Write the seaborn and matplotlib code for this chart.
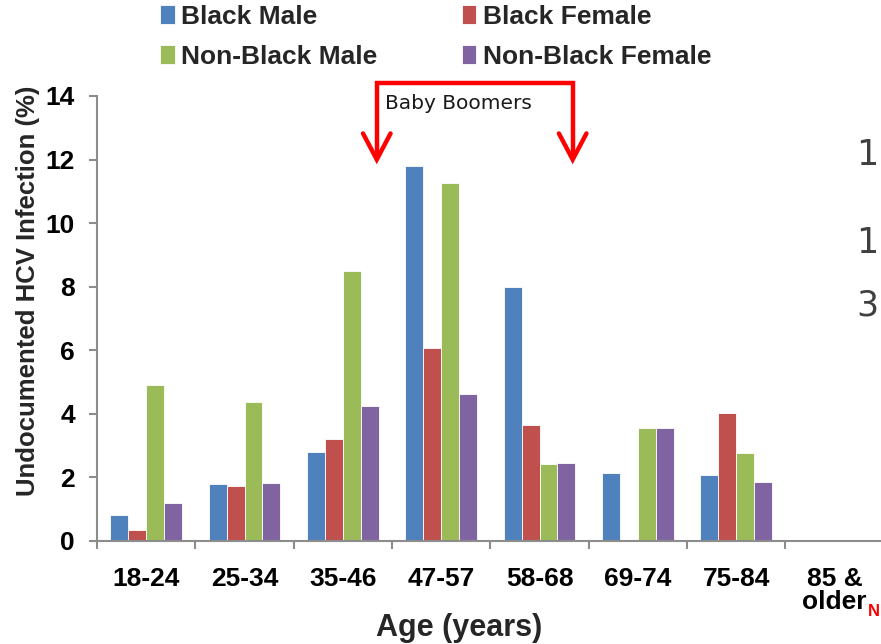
import numpy as np
import pandas as pd
import matplotlib
matplotlib.use("Agg")
import matplotlib.pyplot as plt
import seaborn as sns

# === Data ===
ages = ['18-24', '25-34', '35-46', '47-57', '58-68', '69-74', '75-84', '85 &\nolder']
groups = ['Black Male', 'Black Female', 'Non-Black Male', 'Non-Black Female']
black_male = [0.81, 1.79, 2.80, 11.80, 8.00, 2.15, 2.07, np.nan]
black_female = [0.36, 1.74, 3.22, 6.07, 3.66, np.nan, 4.02, np.nan]
nonblack_male = [4.90, 4.36, 8.49, 11.25, 2.42, 3.55, 2.76, np.nan]
nonblack_female = [1.18, 1.82, 4.24, 4.61, 2.46, 3.55, 1.84, np.nan]
colors = ['#4F81BD', '#C0504D', '#9BBB59', '#8064A2']

df = pd.DataFrame({
    'age': ages * 4,
    'group': np.repeat(groups, len(ages)),
    'value': black_male + black_female + nonblack_male + nonblack_female,
})

sns.set_theme(style='white')
plt.rcParams['font.family'] = ['Liberation Sans', 'DejaVu Sans']

fig = plt.figure(figsize=(8.81, 6.44), dpi=100)
ax = fig.add_axes([0.1101, 0.16, 0.893, 0.691])

sns.barplot(data=df, x='age', y='value', hue='group', order=ages, hue_order=groups,
            palette=dict(zip(groups, colors)), saturation=1, errorbar=None,
            width=0.73, edgecolor='white', linewidth=0.6, ax=ax)

# === Axes styling ===
ax.set_xlim(-0.5, 7.5)
ax.set_ylim(0, 14)
ax.set_yticks(range(0, 15, 2))
ax.set_xticks(range(len(ages)))
ax.set_xticklabels(ages, fontweight='bold', fontsize=19, linespacing=0.95)
ax.set_xticks(np.arange(-0.5, len(ages), 1), minor=True)
for lab in ax.get_yticklabels():
    lab.set_fontweight('bold')
    lab.set_fontsize(19)
ax.tick_params(axis='x', which='major', length=0, pad=19, colors='black')
ax.tick_params(axis='x', which='minor', length=6, width=1.5, color='#8c8c8c', direction='out')
ax.tick_params(axis='y', length=6, width=1.5, color='#8c8c8c', direction='out', pad=10,
               labelcolor='black')
ax.xaxis.set_ticks_position('bottom')
ax.yaxis.set_ticks_position('left')
for side in ['top', 'right']:
    ax.spines[side].set_visible(False)
for side in ['left', 'bottom']:
    ax.spines[side].set_color('#8c8c8c')
    ax.spines[side].set_linewidth(1.5)

ax.set_ylabel('Undocumented HCV Infection (%)', fontsize=18.5, fontweight='bold', va='center')
ax.yaxis.set_label_coords(-0.0877, 0.562)
ax.set_xlabel('Age (years)', fontsize=22, fontweight='bold', va='center')
ax.xaxis.set_label_coords(0.46, -0.195)

# === Legend ===
handles, labels = ax.get_legend_handles_labels()
ax.get_legend().remove()
order = [0, 2, 1, 3]
fig.legend([handles[i] for i in order], [labels[i] for i in order], ncol=2,
           loc='upper left', bbox_to_anchor=(160 / 881, 1 - 5 / 644), frameon=False,
           prop={'weight': 'bold', 'size': 19}, handlelength=0.55, handleheight=0.75,
           handletextpad=0.25, columnspacing=3.2, labelspacing=0.6,
           borderpad=0, borderaxespad=0)

# === Baby Boomers bracket ===
red = '#FF0000'
xl, xr, ytop, ytip = 2.345, 4.337, 14.4, 12.0
ax.plot([xl, xl, xr, xr], [ytip + 0.1, ytop, ytop, ytip + 0.1], color=red, lw=3.2,
        clip_on=False, solid_joinstyle='miter')
for xx in [xl, xr]:
    ax.plot([xx - 0.14, xx, xx + 0.14], [12.82, ytip, 12.82], color=red, lw=3.2,
            clip_on=False, solid_joinstyle='miter', solid_capstyle='round')
ax.text(2.427, 13.77, 'Baby Boomers', fontsize=14.5, family='DejaVu Sans',
        color='#1a1a1a', va='center', ha='left')

# === Slide text at the right edge ===
for ypx, s in [(155, '1'), (243, '1'), (305, '3')]:
    fig.text(856 / 881, 1 - ypx / 644, s, fontsize=25, family='DejaVu Sans',
             color='#404040', va='center', ha='left')
fig.text(868 / 881, 1 - 612 / 644, 'N', fontsize=12, fontweight='bold', color=red,
         va='center', ha='left')

fig.savefig('out.png', dpi=100)
